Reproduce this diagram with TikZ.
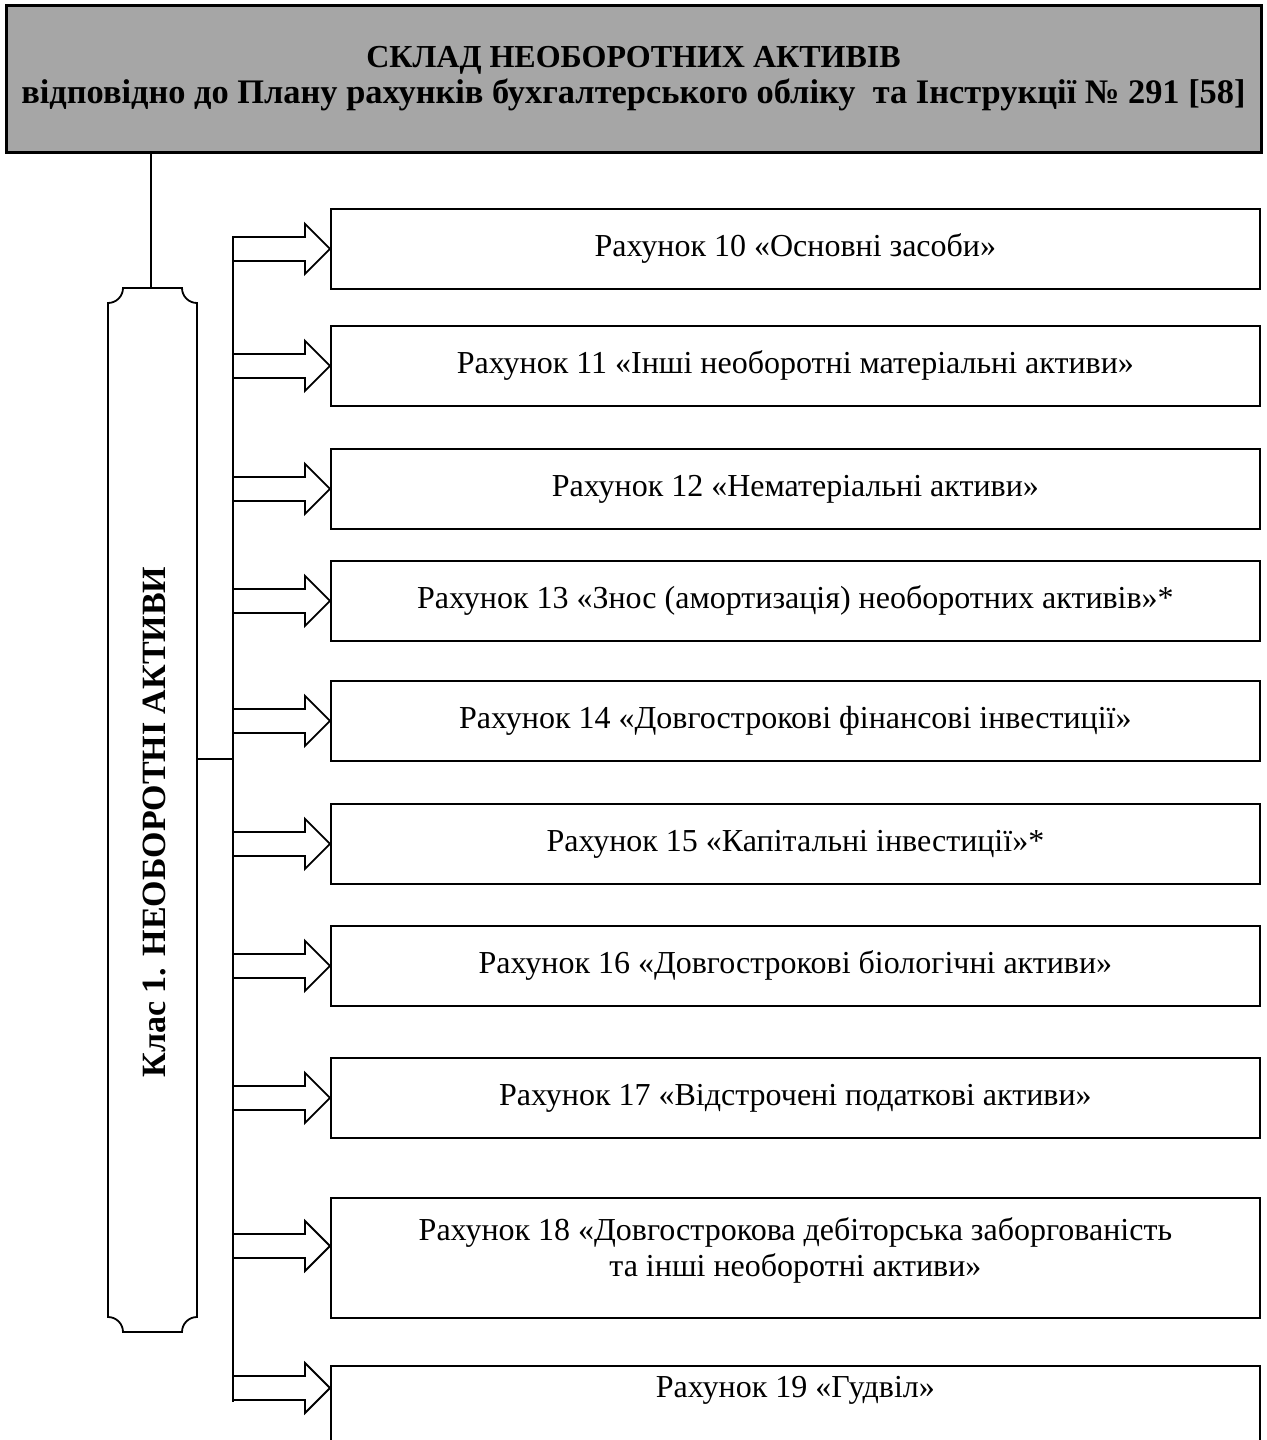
\documentclass[tikz,border=0pt]{standalone}
\usepackage{fontspec}
\setmainfont{Liberation Serif}
\usepackage{xcolor}
\definecolor{headgray}{RGB}{166,166,166}
\usepackage{tikz}
\usetikzlibrary{positioning, calc}

\begin{document}
\begin{tikzpicture}[x=1pt, y=-1pt]

  \tikzstyle{headbox} = [
    draw, line width=1.5pt, fill=headgray,
    minimum width=627.5pt, minimum height=73.5pt,
    align=center, font=\bfseries\fontsize{16}{18}\selectfont
  ]
  \tikzstyle{rahbox} = [
    draw, line width=0.9pt, anchor=north west, inner sep=0pt,
    minimum width=464.5pt, minimum height=40pt,
    align=center, font=\fontsize{16}{18}\selectfont
  ]
  \tikzstyle{klastext} = [
    rotate=90, font=\bfseries\fontsize{17}{18}\selectfont
  ]
  \tikzstyle{link} = [line width=0.9pt]
  \tikzstyle{blockarrow} = [line width=0.9pt, fill=white, line join=miter]

  \clip (0,0) rectangle (633.5,720);

  \node[headbox] (head) at (316.75,39.25)
    {СКЛАД НЕОБОРОТНИХ АКТИВІВ\\
     {\fontsize{17.2}{18}\selectfont відповідно до Плану рахунків бухгалтерського обліку \ та Інструкції №~291 [58]}};

  % class box with hollow corners
  \draw[link] (61.5,144) -- (91,144) arc[start angle=180, end angle=90, radius=7.5]
    -- (98.5,658.5) arc[start angle=-90, end angle=-180, radius=7.5]
    -- (61.5,666) arc[start angle=0, end angle=-90, radius=7.5]
    -- (54,151.5) arc[start angle=90, end angle=0, radius=7.5] -- cycle;
  \node[klastext] (klas) at (77,411) {Клас 1. НЕОБОРОТНІ АКТИВИ};

  \node[rahbox] (r10) at (165,104)   {Рахунок 10 «Основні засоби»};
  \node[rahbox] (r11) at (165,162.5) {Рахунок 11 «Інші необоротні матеріальні активи»};
  \node[rahbox] (r12) at (165,224)   {Рахунок 12 «Нематеріальні активи»};
  \node[rahbox] (r13) at (165,280)   {Рахунок 13 «Знос (амортизація) необоротних активів»*};
  \node[rahbox] (r14) at (165,340)   {Рахунок 14 «Довгострокові фінансові інвестиції»};
  \node[rahbox] (r15) at (165,401.5) {Рахунок 15 «Капітальні інвестиції»*};
  \node[rahbox] (r16) at (165,462.5) {Рахунок 16 «Довгострокові біологічні активи»};
  \node[rahbox] (r17) at (165,528.5) {Рахунок 17 «Відстрочені податкові активи»};
  \node[rahbox, minimum height=60pt] (r18) at (165,598.5)
    {Рахунок 18 «Довгострокова дебіторська заборгованість\\ та інші необоротні активи»\\[-7pt]};
  \node[rahbox, text depth=19pt] (r19) at (165,682.5) {Рахунок 19 «Гудвіл»};

  \coordinate (klin)   at (75.5,144);
  \coordinate (klout)  at (98.5,379.5);
  \coordinate (bustop) at (116.5,119);
  \coordinate (busbot) at (116.5,701);
  \coordinate (t18)    at (165,623);
  \coordinate (t19)    at (165,694);

  \draw[link] (head.south -| klin) -- (klin);
  \draw[link] (klout) -- (klout -| bustop);
  \draw[link] (bustop) -- (busbot);

  \foreach \b in {r10.west, r11.west, r12.west, r13.west, r14.west, r15.west, r16.west, r17.west, t18, t19}
    \draw[blockarrow] (\b) -- ++(-12.5,-12.5) -- ++(0,6.5) -- ++(-36,0)
      -- ++(0,12) -- ++(36,0) -- ++(0,6.5) -- cycle;

\end{tikzpicture}
\end{document}
